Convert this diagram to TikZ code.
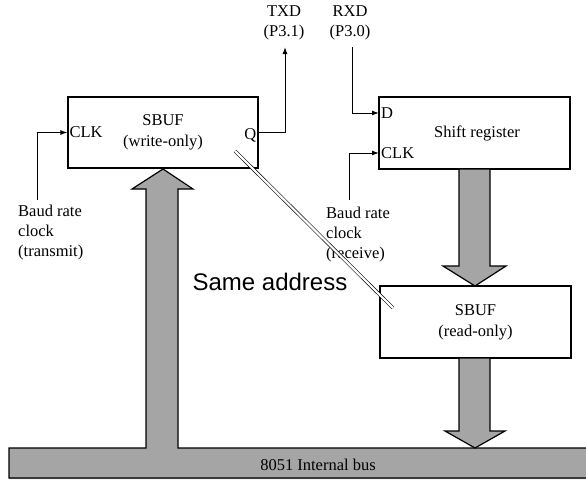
\documentclass[tikz,border=0pt]{standalone}
\usepackage{fontspec}
\setmainfont{Liberation Serif}
\newfontfamily\arialfont{Liberation Sans}
\usetikzlibrary{arrows.meta}
\definecolor{busgray}{RGB}{165,165,165}
\tikzset{
  regbox/.style={draw, line width=1.2pt, fill=white, minimum width=#1, minimum height=72pt, inner sep=0pt, align=center, font=\fontsize{16.5}{21}\selectfont},
  pinlbl/.style={inner sep=2pt, font=\fontsize{16.5}{20}\selectfont},
  sidelbl/.style={inner sep=0pt, align=left, font=\fontsize{16.5}{20}\selectfont},
  toplbl/.style={inner sep=0pt, align=center, font=\fontsize{16.5}{20}\selectfont},
  sig/.style={line width=1pt, -{Latex[length=7pt,width=5pt]}},
  fat/.style={draw, line width=1.2pt, fill=busgray, line join=miter},
  sameline/.style={double, double distance=2.2pt, line width=0.6pt}
}
\begin{document}
\begin{tikzpicture}[x=1pt,y=-1pt]
\useasboundingbox (0,0) rectangle (586,479);
% fat bus with up arrow
\fill[busgray] (9,448) -- (146,448) -- (146,189) -- (132,189) -- (163,169) -- (193,189) -- (178,189) -- (178,448) -- (586,448) -- (586,479) -- (9,479) -- cycle;
\draw[line width=1.2pt, line join=miter] (586,448) -- (178,448) -- (178,189) -- (193,189) -- (163,169) -- (132,189) -- (146,189) -- (146,448) -- (9,448) -- (9,478) -- (586,478);
\node[toplbl] (bus) at (318,465) {8051 Internal bus};
% boxes
\node[regbox=190pt, minimum height=71pt] (sbufw) at (163,132.5) {SBUF\\(write-only)};
\node[regbox=191pt] (shreg) at (474.5,133) {\hspace*{5pt}Shift register};
\node[regbox=191pt] (sbufr) at (475.5,322) {SBUF\\(read-only)};
% fat arrows on the right
\path[fat] (459,169) -- (459,266) -- (443,266) -- (475,286) -- (506,266) -- (490,266) -- (490,169) -- cycle;
\path[fat] (459,358) -- (459,431) -- (445,431) -- (475,448) -- (505,431) -- (490,431) -- (490,358) -- cycle;
% pin labels
\node[pinlbl, anchor=west] (clkw) at (sbufw.west) {CLK};
\node[pinlbl, anchor=east] (q) at ([yshift=-3pt]sbufw.east) {Q};
\coordinate (dpin) at (379,113);
\coordinate (clkpin) at (379,153);
\node[pinlbl, anchor=west] (dl) at (dpin) {D};
\node[pinlbl, anchor=west] (clkr) at (clkpin) {CLK};
% top labels
\node[toplbl] (txd) at (284,23) {TXD\\(P3.1)};
\node[toplbl] (rxd) at (350,23) {RXD\\(P3.0)};
\coordinate (txdtip) at (285,47);
\coordinate (rxdtop) at (352,47);
% side labels
\node[sidelbl, anchor=west] (btx) at (18,233) {Baud rate\\clock\\(transmit)};
\node[sidelbl, anchor=west] (brx) at (326,235) {Baud rate\\clock\\(receive)};
\coordinate (btxtop) at (37,200);
\coordinate (brxtop) at (349,200);
% signal connectors
\draw[sig] (btxtop) |- (sbufw.west);
\draw[sig] (sbufw.east) -| (txdtip);
\draw[sig] (rxdtop) |- (dpin);
\draw[sig] (brxtop) |- (clkpin);
% same address
\coordinate (sa1) at (235,151);
\coordinate (sa2) at (393,308);
\draw[sameline] (sa1) -- (sa2);
\node[inner sep=0pt, font=\arialfont\fontsize{24}{28}\selectfont] (same) at (270,282) {Same address};
\end{tikzpicture}
\end{document}
